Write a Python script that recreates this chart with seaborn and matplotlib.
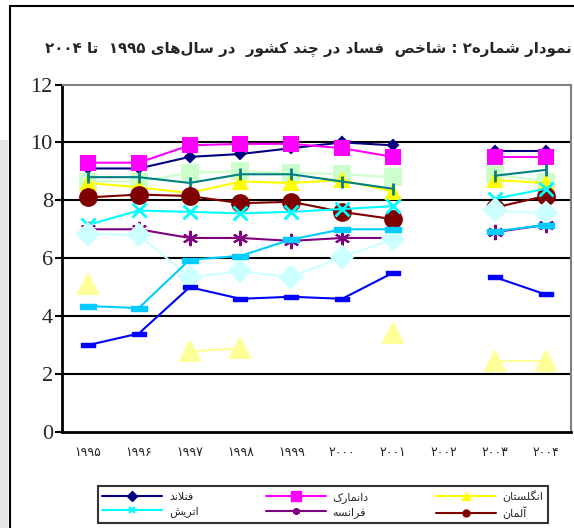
import re
import numpy as np
import pandas as pd
import seaborn as sns
import matplotlib.pyplot as plt
import matplotlib.lines as mlines
import matplotlib.patches as mpatches

nan = np.nan

# libelles (ordre logique, persan)
titre = 'نمودار شماره۲ : شاخص  فساد در چند کشور  در سال‌های ۱۹۹۵  تا ۲۰۰۴'
annees = ['۱۹۹۵', '۱۹۹۶', '۱۹۹۷', '۱۹۹۸', '۱۹۹۹', '۲۰۰۰', '۲۰۰۱', '۲۰۰۲', '۲۰۰۳', '۲۰۰۴']

# series avec legende
finlande = [9.1, 9.1, 9.5, 9.6, 9.8, 10.0, 9.9, nan, 9.7, 9.7]
danemark = [9.3, 9.3, 9.9, 9.95, 9.95, 9.8, 9.5, nan, 9.5, 9.5]
angleterre = [8.6, 8.45, 8.25, 8.65, 8.6, 8.7, 8.3, nan, 8.7, 8.6]
autriche = [7.15, 7.65, 7.6, 7.55, 7.6, 7.7, 7.8, nan, 8.05, 8.4]
france = [7.0, 7.0, 6.7, 6.7, 6.6, 6.7, 6.7, nan, 6.9, 7.15]
allemagne = [8.1, 8.2, 8.15, 7.9, 7.95, 7.6, 7.35, nan, 7.75, 8.15]
# series sans legende
vert_clair = [8.65, 8.65, 8.95, 9.0, 8.95, 8.9, 8.8, nan, 8.9, 8.65]
sarcelle = [8.8, 8.8, 8.6, 8.9, 8.9, 8.65, 8.4, nan, 8.85, 9.05]
cyan_clair = [6.85, 6.8, 5.35, 5.55, 5.35, 6.05, 6.65, nan, 7.65, 7.55]
bleu_ciel = [4.35, 4.28, 5.95, 6.08, 6.65, 7.0, 7.0, nan, 6.93, 7.15]
bleu = [3.0, 3.4, 5.0, 4.6, 4.67, 4.6, 5.5, nan, 5.35, 4.75]
jaune_pale = [5.1, nan, 2.78, 2.9, nan, nan, 3.42, nan, 2.45, 2.45]

noms = ['فنلاند', 'دانمارک', 'انگلستان', 'اتریش', 'فرانسه', 'آلمان']

# ---- mise en forme arabe / persan (formes de presentation + ordre visuel)
FORMES = {
    'ا': ('\uFE8D', '\uFE8E', None, None), 'آ': ('\uFE81', '\uFE82', None, None),
    'ب': ('\uFE8F', '\uFE90', '\uFE91', '\uFE92'), 'پ': ('\uFB56', '\uFB57', '\uFB58', '\uFB59'),
    'ت': ('\uFE95', '\uFE96', '\uFE97', '\uFE98'), 'ث': ('\uFE99', '\uFE9A', '\uFE9B', '\uFE9C'),
    'ج': ('\uFE9D', '\uFE9E', '\uFE9F', '\uFEA0'), 'چ': ('\uFB7A', '\uFB7B', '\uFB7C', '\uFB7D'),
    'ح': ('\uFEA1', '\uFEA2', '\uFEA3', '\uFEA4'), 'خ': ('\uFEA5', '\uFEA6', '\uFEA7', '\uFEA8'),
    'د': ('\uFEA9', '\uFEAA', None, None), 'ذ': ('\uFEAB', '\uFEAC', None, None),
    'ر': ('\uFEAD', '\uFEAE', None, None), 'ز': ('\uFEAF', '\uFEB0', None, None),
    'ژ': ('\uFB8A', '\uFB8B', None, None),
    'س': ('\uFEB1', '\uFEB2', '\uFEB3', '\uFEB4'), 'ش': ('\uFEB5', '\uFEB6', '\uFEB7', '\uFEB8'),
    'ص': ('\uFEB9', '\uFEBA', '\uFEBB', '\uFEBC'), 'ض': ('\uFEBD', '\uFEBE', '\uFEBF', '\uFEC0'),
    'ط': ('\uFEC1', '\uFEC2', '\uFEC3', '\uFEC4'), 'ظ': ('\uFEC5', '\uFEC6', '\uFEC7', '\uFEC8'),
    'ع': ('\uFEC9', '\uFECA', '\uFECB', '\uFECC'), 'غ': ('\uFECD', '\uFECE', '\uFECF', '\uFED0'),
    'ف': ('\uFED1', '\uFED2', '\uFED3', '\uFED4'), 'ق': ('\uFED5', '\uFED6', '\uFED7', '\uFED8'),
    'ک': ('\uFB8E', '\uFB8F', '\uFB90', '\uFB91'), 'گ': ('\uFB92', '\uFB93', '\uFB94', '\uFB95'),
    'ل': ('\uFEDD', '\uFEDE', '\uFEDF', '\uFEE0'), 'م': ('\uFEE1', '\uFEE2', '\uFEE3', '\uFEE4'),
    'ن': ('\uFEE5', '\uFEE6', '\uFEE7', '\uFEE8'), 'ه': ('\uFEE9', '\uFEEA', '\uFEEB', '\uFEEC'),
    'و': ('\uFEED', '\uFEEE', None, None), 'ی': ('\uFBFC', '\uFBFD', '\uFBFE', '\uFBFF'),
}
LAM_ALEF = {'ا': ('\uFEFB', '\uFEFC'), 'آ': ('\uFEF5', '\uFEF6')}
CHIFFRES = '0123456789۰۱۲۳۴۵۶۷۸۹'


def faconner(txt):
    res = []
    i = 0
    n = len(txt)
    while i < n:
        c = txt[i]
        if c not in FORMES:
            res.append(c)
            i += 1
            continue
        avant = txt[i - 1] if i > 0 else None
        gauche = avant in FORMES and FORMES[avant][2] is not None
        if c == 'ل' and i + 1 < n and txt[i + 1] in LAM_ALEF:
            lig = LAM_ALEF[txt[i + 1]]
            res.append(lig[1] if gauche else lig[0])
            i += 2
            continue
        apres = txt[i + 1] if i + 1 < n else None
        droite = FORMES[c][2] is not None and apres in FORMES
        iso, fin, ini, med = FORMES[c]
        if gauche and droite:
            res.append(med)
        elif gauche:
            res.append(fin)
        elif droite:
            res.append(ini)
        else:
            res.append(iso)
        i += 1
    return ''.join(res).replace('\u200c', '')


def rtl(txt):
    s = faconner(txt)
    runs = re.findall('[' + CHIFFRES + ']+|[^' + CHIFFRES + ']+', s)
    return ''.join(r if r[0] in CHIFFRES else r[::-1] for r in reversed(runs))


# ---- style
sns.set_style('white')
plt.rcParams['font.family'] = ['DejaVu Sans']

fig = plt.figure(figsize=(5.74, 5.28), dpi=100)
ax = fig.add_axes([62.5 / 574, 1 - 432 / 528, (571 - 62.5) / 574, (432 - 84.5) / 528])

x = np.arange(len(annees))

series = [
    (finlande, '#000080', 'D', 5.5, 1.5),
    (danemark, '#FF00FF', 's', 10.5, 1.5),
    (vert_clair, '#CCFFCC', 's', 11.5, 1.5),
    (angleterre, '#FFFF00', '^', 10, 1.5),
    (sarcelle, '#008080', '|', 9, 2),
    (allemagne, '#800000', 'o', 12, 1.5),
    (autriche, '#00FFFF', 'x', 10, 2),
    (france, '#800080', (6, 2, 0), 11, 1.5),
    (cyan_clair, '#CCFFFF', 'D', 11, 1.5),
    (bleu_ciel, '#00CCFF', [(-1, -0.3), (1, -0.3), (1, 0.3), (-1, 0.3), (-1, -0.3)], 12, 1),
    (bleu, '#0000FF', [(-1, -0.3), (1, -0.3), (1, 0.3), (-1, 0.3), (-1, -0.3)], 10, 1),
    (jaune_pale, '#FFFF99', '^', 14, 1.5),
]

for vals, couleur, mk, taille, mew in series:
    d = pd.DataFrame({'x': x, 'y': vals})
    d['seg'] = d['y'].isna().cumsum()
    d = d.dropna()
    for _, seg in d.groupby('seg'):
        sns.lineplot(data=seg, x='x', y='y', ax=ax, color=couleur, linewidth=1.5,
                     marker=mk, markersize=taille, markeredgecolor=couleur,
                     markerfacecolor=couleur, markeredgewidth=mew,
                     estimator=None, sort=False, legend=False)

for g in [2, 4, 6, 8, 10]:
    ax.axhline(g, color='black', linewidth=1.5, zorder=0.5)

ax.set_xlim(-0.5, 9.5)
ax.set_ylim(0, 12)
ax.set_yticks(range(0, 13, 2))
ax.set_yticklabels([str(v) for v in range(0, 13, 2)], family='Liberation Serif', fontsize=16)
ax.set_xticks(x)
ax.set_xticklabels(annees, fontsize=9)
ax.set_xticks(np.arange(-0.5, 10, 1), minor=True)
ax.tick_params(axis='x', which='major', length=0, pad=10)
ax.tick_params(axis='x', which='minor', length=5, width=1.5, direction='out', color='black')
ax.tick_params(axis='y', length=5, width=1.5, direction='out', color='black', pad=2, left=True)
ax.set_xlabel('')
ax.set_ylabel('')

for s in ['left', 'bottom']:
    ax.spines[s].set_color('black')
    ax.spines[s].set_linewidth(2)
for s in ['top', 'right']:
    ax.spines[s].set_color('#808080')
    ax.spines[s].set_linewidth(1.5)

# titre
fig.text(308 / 574, 1 - 49 / 528, rtl(titre), ha='center', va='center',
         fontsize=10.8, fontweight='bold')

# cadre exterieur
fig.add_artist(mpatches.Rectangle((0, 0), 8 / 574, (528 - 140) / 528, transform=fig.transFigure,
                                  color='#E6E6E6', linewidth=0))
fig.add_artist(mlines.Line2D([10 / 574, 10 / 574], [0, 1 - 6 / 528], color='black', linewidth=1.5))
fig.add_artist(mlines.Line2D([10 / 574, 1], [1 - 6 / 528, 1 - 6 / 528], color='black', linewidth=1.5))

# legende
h_fin = mlines.Line2D([], [], color='#000080', marker='D', markersize=5, linewidth=1.5)
h_dan = mlines.Line2D([], [], color='#FF00FF', marker='s', markersize=7, linewidth=1.5)
h_ang = mlines.Line2D([], [], color='#FFFF00', marker='^', markersize=6, linewidth=1.5)
h_aut = mlines.Line2D([], [], color='#00FFFF', marker='x', markersize=4, markeredgewidth=1.5, linewidth=1.5)
h_fra = mlines.Line2D([], [], color='#800080', marker=(6, 2, 0), markersize=5, markeredgewidth=1.5, linewidth=1.5)
h_all = mlines.Line2D([], [], color='#800000', marker='o', markersize=5, linewidth=1.5)
handles = [h_fin, h_aut, h_dan, h_fra, h_ang, h_all]
labels = [rtl(noms[0]), rtl(noms[3]), rtl(noms[1]), rtl(noms[4]), rtl(noms[2]), rtl(noms[5])]
leg = fig.legend(handles=handles, labels=labels, ncol=3, loc='lower left', mode='expand',
                 bbox_to_anchor=(98 / 574, 1 - 523 / 528, 450 / 574, 40 / 528),
                 fontsize=8, handlelength=5.4, handletextpad=0.6, borderaxespad=0,
                 fancybox=False, frameon=True, edgecolor='black', labelspacing=0.35)
leg.get_frame().set_linewidth(1.5)

fig.savefig('out.png', dpi=100)
